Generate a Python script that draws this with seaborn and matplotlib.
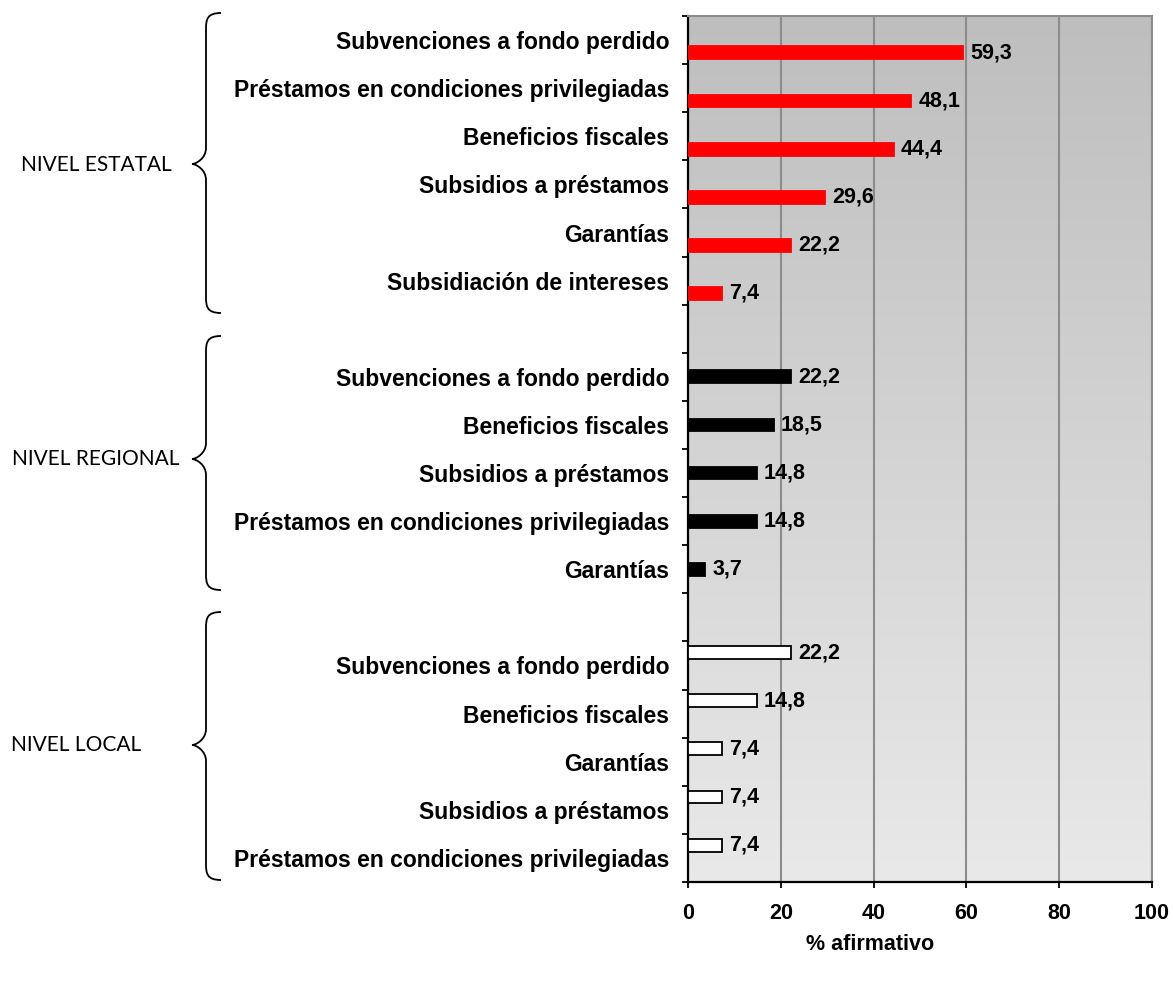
import matplotlib
matplotlib.use("Agg")
from matplotlib import pyplot as plt
from matplotlib.path import Path
from matplotlib.patches import PathPatch
from matplotlib.colors import LinearSegmentedColormap
import numpy as np
import pandas as pd
import seaborn as sns

levels = ["NIVEL ESTATAL", "NIVEL REGIONAL", "NIVEL LOCAL"]

estatal_items = ["Subvenciones a fondo perdido", "Préstamos en condiciones privilegiadas",
                 "Beneficios fiscales", "Subsidios a préstamos", "Garantías",
                 "Subsidiación de intereses"]
estatal_values = [59.3, 48.1, 44.4, 29.6, 22.2, 7.4]

regional_items = ["Subvenciones a fondo perdido", "Beneficios fiscales", "Subsidios a préstamos",
                  "Préstamos en condiciones privilegiadas", "Garantías"]
regional_values = [22.2, 18.5, 14.8, 14.8, 3.7]

local_items = ["Subvenciones a fondo perdido", "Beneficios fiscales", "Garantías",
               "Subsidios a préstamos", "Préstamos en condiciones privilegiadas"]
local_values = [22.2, 14.8, 7.4, 7.4, 7.4]

x_ticks = [0, 20, 40, 60, 80, 100]
x_label = "% afirmativo"

# build long table + category order (with an empty slot between groups)
rows = []
order = []
tick_labels = []
groups = [(levels[0], estatal_items, estatal_values),
          (levels[1], regional_items, regional_values),
          (levels[2], local_items, local_values)]
for gi, (lvl, items, vals) in enumerate(groups):
    for it, v in zip(items, vals):
        key = lvl + "|" + it
        rows.append({"key": key, "item": it, "nivel": lvl, "valor": v})
        order.append(key)
        tick_labels.append(it)
    if gi < len(groups) - 1:
        order.append("gap%d" % gi)
        tick_labels.append("")
df = pd.DataFrame(rows)

sns.set_style("white")
plt.rcParams["font.family"] = ["Liberation Sans", "DejaVu Sans"]
plt.rcParams["text.color"] = "black"
plt.rcParams["xtick.labelcolor"] = "black"
plt.rcParams["ytick.labelcolor"] = "black"

W, H = 1173, 984
fig = plt.figure(figsize=(W / 100, H / 100), dpi=100)
ax = fig.add_axes([688 / W, 1 - 882 / H, (1152 - 688) / W, (882 - 16) / H])

# gradient background
cmap = LinearSegmentedColormap.from_list("bg", ["#bebebe", "#e9e9e9"])
ax.imshow(np.linspace(0, 1, 256).reshape(-1, 1), cmap=cmap, aspect="auto",
          extent=(0, 1, 0, 1), transform=ax.transAxes, zorder=0)

palette = {"NIVEL ESTATAL": "#ff0000", "NIVEL REGIONAL": "#000000", "NIVEL LOCAL": "#ffffff"}
hue_order = ["NIVEL LOCAL", "NIVEL REGIONAL", "NIVEL ESTATAL"]
sns.barplot(data=df, x="valor", y="key", hue="nivel", order=order, hue_order=hue_order,
            palette=palette, saturation=1, width=0.8, dodge=True, legend=False, ax=ax, zorder=3)

edge = {"NIVEL ESTATAL": "#ff0000", "NIVEL REGIONAL": "#000000", "NIVEL LOCAL": "#000000"}
for lvl, cont in zip(hue_order, ax.containers):
    for bar in cont:
        bar.set_edgecolor(edge[lvl])
        bar.set_linewidth(1.3)
    labs = [("%.1f" % v).replace(".", ",") for v in cont.datavalues]
    ax.bar_label(cont, labels=labs, padding=5, fontsize=15.5, fontweight="bold", color="black")

ax.set_xlim(0, 100)
ax.set_ylim(len(order) - 0.5, -0.5)
ax.set_xticks(x_ticks)
ax.set_xticklabels([str(t) for t in x_ticks], fontsize=15.5, fontweight="bold")
ax.set_yticks(range(len(order)))
ax.set_yticklabels(tick_labels, fontsize=16.5, fontweight="bold")
ax.set_yticks(np.arange(-0.5, len(order), 1), minor=True)
ax.tick_params(axis="y", which="major", length=0, pad=13.5)
ax.tick_params(axis="y", which="minor", length=4, width=1.3, direction="out", color="black", left=True)
ax.tick_params(axis="x", length=4, width=1.3, direction="out", color="black", pad=11, bottom=True)
ax.set_xlabel("")
ax.set_ylabel("")

ax.set_axisbelow(True)
ax.xaxis.grid(True, color="#8c8c8c", linewidth=1.5)
ax.yaxis.grid(False)
for s in ["top", "right"]:
    ax.spines[s].set_color("#8c8c8c")
    ax.spines[s].set_linewidth(1.5)
for s in ["left", "bottom"]:
    ax.spines[s].set_color("black")
    ax.spines[s].set_linewidth(1.6)

fig.text(870 / W, 1 - 945 / H, x_label, fontsize=15.5, fontweight="bold", ha="center", va="center")


def brace(y_top, y_mid, y_bot, x_tip=192, x_line=206, x_end=221, r=16):
    pts = [(x_end, y_top),
           (x_line + 1, y_top), (x_line, y_top + r * 0.4), (x_line, y_top + r),
           (x_line, y_mid - r),
           (x_line, y_mid - r * 0.35), (x_tip + 4, y_mid), (x_tip, y_mid),
           (x_tip + 4, y_mid), (x_line, y_mid + r * 0.35), (x_line, y_mid + r),
           (x_line, y_bot - r),
           (x_line, y_bot - r * 0.4), (x_line + 1, y_bot), (x_end, y_bot)]
    codes = [Path.MOVETO, Path.CURVE4, Path.CURVE4, Path.CURVE4, Path.LINETO,
             Path.CURVE4, Path.CURVE4, Path.CURVE4, Path.CURVE4, Path.CURVE4, Path.CURVE4,
             Path.LINETO, Path.CURVE4, Path.CURVE4, Path.CURVE4]
    pts = [(x / W, 1 - y / H) for x, y in pts]
    fig.add_artist(PathPatch(Path(pts, codes), fill=False, lw=1.3, color="black",
                             transform=fig.transFigure))


brace(13, 164, 313)
brace(336, 459, 590)
brace(612, 745, 880)

group_pos = [(21, 165), (12, 459), (11, 745)]
for lvl, (gx, gy) in zip(levels, group_pos):
    fig.text(gx / W, 1 - gy / H, lvl, fontsize=15, family=["Lato", "DejaVu Sans"],
             ha="left", va="center", color="black")

fig.savefig("out.png", dpi=100)
